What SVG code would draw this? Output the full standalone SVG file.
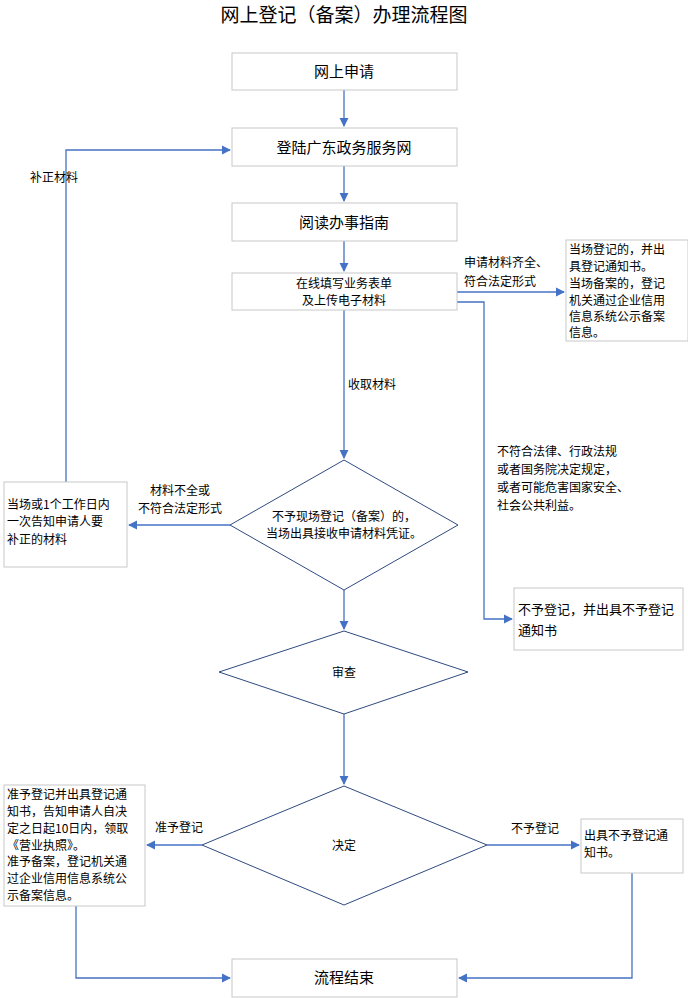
<svg xmlns="http://www.w3.org/2000/svg" width="688" height="998" viewBox="0 0 688 998">
<style>
text{font-family:"Noto Sans CJK SC","Liberation Sans",sans-serif;fill:#000}
.b{fill:#fff;stroke:#c8c8c8;stroke-width:1}
.d{fill:#fff;stroke:#2f4a80;stroke-width:1}
.c{fill:none;stroke:#4472C4;stroke-width:1.3}
.t{font-size:15px;text-anchor:middle}
.s{font-size:12px}
.m{font-size:12px;text-anchor:middle}
</style>
<defs><marker id="a" viewBox="0 0 10 10" refX="9" refY="5" markerWidth="7" markerHeight="7" orient="auto"><path d="M0,0L10,5L0,10z" fill="#4472C4"/></marker></defs>
<rect width="688" height="998" fill="#fff"/>
<text x="344" y="22" style="font-size:19px;text-anchor:middle">网上登记（备案）办理流程图</text>
<g id="connectors">
<path class="c" marker-end="url(#a)" d="M344,90V126"/>
<path class="c" marker-end="url(#a)" d="M344,166V201"/>
<path class="c" marker-end="url(#a)" d="M344,241V271"/>
<path class="c" marker-end="url(#a)" d="M344,310V458"/>
<path class="c" marker-end="url(#a)" d="M457,292H564"/>
<path class="c" marker-end="url(#a)" d="M457,302H484V619H512"/>
<path class="c" marker-end="url(#a)" d="M230,525H129"/>
<path class="c" marker-end="url(#a)" d="M66,482V150H230"/>
<path class="c" marker-end="url(#a)" d="M344,590V629"/>
<path class="c" marker-end="url(#a)" d="M344,714V784"/>
<path class="c" marker-end="url(#a)" d="M202,845H147"/>
<path class="c" marker-end="url(#a)" d="M487,845H579"/>
<path class="c" marker-end="url(#a)" d="M76,906V978H230"/>
<path class="c" marker-end="url(#a)" d="M632,873V978H459"/>
<text x="30" y="182" class="s">补正材料</text>
<text x="464" y="267" class="s">申请材料齐全、</text>
<text x="464" y="286" class="s">符合法定形式</text>
<text x="348" y="389" class="s">收取材料</text>
<text x="497" y="456" class="s">不符合法律、行政法规</text>
<text x="497" y="474" class="s">或者国务院决定规定，</text>
<text x="497" y="492" class="s">或者可能危害国家安全、</text>
<text x="497" y="510" class="s">社会公共利益。</text>
<text x="180" y="495" class="m">材料不全或</text>
<text x="180" y="513" class="m">不符合法定形式</text>
<text x="155" y="832" class="s">准予登记</text>
<text x="511" y="833" class="s">不予登记</text>
</g>
<g id="n1"><rect class="b" x="232" y="53" width="225" height="37"/><text x="344" y="77" class="t">网上申请</text></g>
<g id="n2"><rect class="b" x="232" y="128" width="225" height="38"/><text x="344" y="153" class="t">登陆广东政务服务网</text></g>
<g id="n3"><rect class="b" x="232" y="203" width="225" height="38"/><text x="344" y="228" class="t">阅读办事指南</text></g>
<g id="n4"><rect class="b" x="232" y="273" width="225" height="37"/><text x="344" y="288" class="m">在线填写业务表单</text><text x="344" y="305" class="m">及上传电子材料</text></g>
<g id="n5"><rect class="b" x="566" y="240" width="122" height="101"/>
<text x="569" y="254" class="s">当场登记的，并出</text><text x="569" y="271" class="s">具登记通知书。</text><text x="569" y="288" class="s">当场备案的，登记</text><text x="569" y="305" class="s">机关通过企业信用</text><text x="569" y="321" class="s">信息系统公示备案</text><text x="569" y="337" class="s">信息。</text></g>
<g id="n6"><path class="d" d="M344,460L458,525L344,590L230,525z"/><text x="344" y="521" class="m">不予现场登记（备案）的，</text><text x="344" y="538" class="m">当场出具接收申请材料凭证。</text></g>
<g id="n7"><rect class="b" x="4" y="482" width="123" height="85"/><text x="7" y="509" class="s">当场或1个工作日内</text><text x="7" y="526" class="s">一次告知申请人要</text><text x="7" y="544" class="s">补正的材料</text></g>
<g id="n8"><rect class="b" x="514" y="588" width="169" height="62"/><text x="518" y="614" style="font-size:13px">不予登记，并出具不予登记</text><text x="518" y="635" style="font-size:13px">通知书</text></g>
<g id="n9"><path class="d" d="M344,631L468,672L344,714L219,672z"/><text x="344" y="677" class="m">审查</text></g>
<g id="n10"><path class="d" d="M344,786L487,845L344,905L202,845z"/><text x="344" y="850" class="m">决定</text></g>
<g id="n11"><rect class="b" x="4" y="785" width="141" height="121"/>
<text x="7" y="799" class="s">准予登记并出具登记通</text><text x="7" y="816" class="s">知书，告知申请人自决</text><text x="7" y="833" class="s">定之日起10日内，领取</text><text x="7" y="850" class="s">《营业执照》。</text><text x="7" y="866" class="s">准予备案，登记机关通</text><text x="7" y="883" class="s">过企业信用信息系统公</text><text x="7" y="900" class="s">示备案信息。</text></g>
<g id="n12"><rect class="b" x="581" y="819" width="102" height="54"/><text x="584" y="840" class="s">出具不予登记通</text><text x="584" y="857" class="s">知书。</text></g>
<g id="n13"><rect class="b" x="232" y="959" width="225" height="38"/><text x="344" y="983" class="t">流程结束</text></g>
</svg>
